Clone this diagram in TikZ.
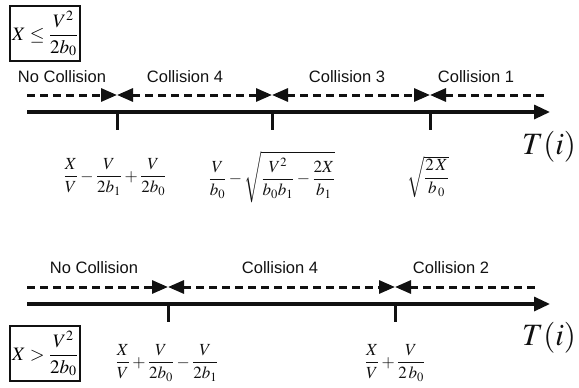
\documentclass[tikz,border=0pt]{standalone}
\usepackage{amsmath}
\usepackage{mathptmx}
\usepackage{fontspec}
\newfontfamily\zonefont{Liberation Sans}
\usetikzlibrary{arrows.meta,positioning}
\definecolor{Ink}{HTML}{111111}
\tikzset{
  axisline/.style={line width=3.2pt,draw=Ink,-{Triangle[length=16pt,width=14pt]}},
  dashseg/.style={line width=3pt,draw=Ink,dash pattern=on 8pt off 5pt},
  tipend/.style={dashseg,-{Triangle[length=16pt,width=13pt]}},
  tipboth/.style={dashseg,{Triangle[length=16pt,width=13pt]}-{Triangle[length=16pt,width=13pt]}},
  tickmark/.style={line width=3pt,draw=Ink},
  zone/.style={font=\zonefont\fontsize{16.5}{18}\selectfont,text=Ink,inner sep=0pt},
  expr/.style={font=\fontsize{17}{20}\selectfont,text=Ink,inner sep=0pt},
  condbox/.style={draw=Ink,line width=2.6pt,inner sep=1pt,minimum width=70pt,minimum height=55pt,font=\fontsize{19}{22}\selectfont},
  tlabel/.style={font=\fontsize{31}{34}\selectfont,text=Ink,inner sep=0pt}
}
\begin{document}
\begin{tikzpicture}[x=1pt,y=-1pt]
\useasboundingbox (0,0) rectangle (579,388);
\node[condbox] (condA) at (45,33.5) {$X\le\dfrac{V^2}{2b_0}$};
\coordinate (a0) at (27,95); \coordinate (a1) at (117,95); \coordinate (a2) at (272,95); \coordinate (a3) at (430,95); \coordinate (a4) at (545,95);
\draw[tipend] (a0)--(a1);\draw[tipboth] (a1)--(a2);\draw[tipboth] (a2)--(a3);\draw[dashseg,{Triangle[length=16pt,width=13pt]}-] (a3)--(a4);
\coordinate (xa0) at (27,112); \coordinate (xa1) at (550,112);
\draw[axisline] (xa0)--(xa1);
\node[zone] (nocolA) at (62,77) {No Collision};
\node[zone] (col4A) at (185,77) {Collision 4};
\node[zone] (col3A) at (347,77) {Collision 3};
\node[zone] (col1A) at (476,77) {Collision 1};
\coordinate (ka1) at (117,112); \coordinate (ka2) at (272,112); \coordinate (ka3) at (430,112);
\draw[tickmark] (ka1)--++(0,18);\draw[tickmark] (ka2)--++(0,18);\draw[tickmark] (ka3)--++(0,18);
\node[expr] (fa1) at (115,177) {$\dfrac{X}{V}-\dfrac{V}{2b_1}+\dfrac{V}{2b_0}$};
\node[expr] (fa2) at (272,177) {$\dfrac{V}{b_0}-\sqrt{\dfrac{V^2}{b_0b_1}-\dfrac{2X}{b_1}}$};
\node[expr] (fa3) at (428,177) {$\sqrt{\dfrac{2\,X}{b_{\,0}}}$};
\node[tlabel] (tA) at (549,147) {$T(i)$};
\coordinate (b0) at (27,287); \coordinate (b1) at (168,287); \coordinate (b2) at (395,287); \coordinate (b3) at (537,287);
\draw[tipend] (b0)--(b1);\draw[tipboth] (b1)--(b2);\draw[dashseg,{Triangle[length=16pt,width=13pt]}-] (b2)--(b3);
\coordinate (xb0) at (27,304); \coordinate (xb1) at (550,304);
\draw[axisline] (xb0)--(xb1);
\node[zone] (nocolB) at (94,268) {No Collision};
\node[zone] (col4B) at (280,268) {Collision 4};
\node[zone] (col2B) at (451,268) {Collision 2};
\coordinate (kb1) at (168,304); \coordinate (kb2) at (395,304);
\draw[tickmark] (kb1)--++(0,18);\draw[tickmark] (kb2)--++(0,18);
\node[condbox] (condB) at (45,353.5) {$X>\dfrac{V^2}{2b_0}$};
\node[expr] (fb1) at (167,363) {$\dfrac{X}{V}+\dfrac{V}{2b_0}-\dfrac{V}{2b_1}$};
\node[expr] (fb2) at (395,363) {$\dfrac{X}{V}+\dfrac{V}{2\,b_0}$};
\node[tlabel] (tB) at (549,338) {$T(i)$};
\end{tikzpicture}
\end{document}
